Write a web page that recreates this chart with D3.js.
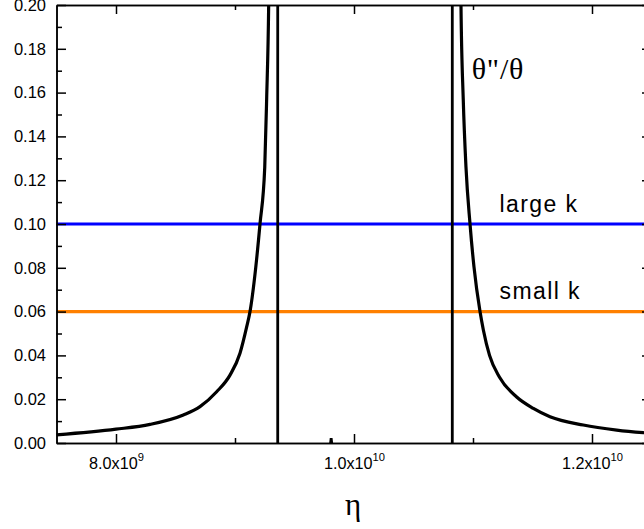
<!DOCTYPE html>
<html>
<head>
<meta charset="utf-8">
<script src="https://cdn.jsdelivr.net/npm/d3@7"></script>
<style>
  html, body { margin: 0; padding: 0; background: #fff; }
  svg { display: block; }
</style>
</head>
<body>
<svg id="chart"></svg>
<script>
// values: eta, theta''/theta
const leftBranch = [
  [7.50e9, 0.0037], [8.00e9, 0.0063], [8.286e9, 0.0085], [8.566e9, 0.0128],
  [8.706e9, 0.0166], [8.846e9, 0.0234], [8.958e9, 0.031], [9.042e9, 0.041],
  [9.098e9, 0.053], [9.126e9, 0.060], [9.174e9, 0.080], [9.210e9, 0.100],
  [9.250e9, 0.126], [9.266e9, 0.157], [9.283e9, 0.200], [9.297e9, 0.280]
];
// pole at ~9.36e9, negative between the poles, touches zero near 9.81e9
const middleBranch = [
  [9.300e9, 0.40], [9.359e9, 0.40], [9.359e9, -0.40], [9.50e9, -0.05],
  [9.70e9, -0.012], [9.795e9, -0.004], [9.808e9, 0.0022], [9.821e9, -0.004],
  [9.95e9, -0.012], [1.05e10, -0.05], [1.0826e10, -0.40], [1.0826e10, 0.40],
  [1.0888e10, 0.40]
];
const rightBranch = [
  [1.0888e10, 0.280], [1.0899e10, 0.200], [1.0918e10, 0.157], [1.0941e10, 0.126],
  [1.0975e10, 0.100], [1.1008e10, 0.0805], [1.1059e10, 0.060], [1.1087e10, 0.0516],
  [1.1139e10, 0.040], [1.1223e10, 0.030], [1.1367e10, 0.021], [1.1507e10, 0.0158],
  [1.1647e10, 0.012], [1.1927e10, 0.0082], [1.2208e10, 0.0059], [1.2431e10, 0.0047],
  [1.25e10, 0.0044]
];

const levelValues = [0.10, 0.06];
const levelLabels = ['large k', 'small k'];

const xMajorTicks = [8e9, 1e10, 1.2e10];
const xTickMantissa = ['8.0', '1.0', '1.2'];
const xTickExponent = ['9', '10', '10'];
const xMinorTicks = [9e9, 1.1e10];
const yMajorTicks = [0, 0.02, 0.04, 0.06, 0.08, 0.10, 0.12, 0.14, 0.16, 0.18, 0.20];
const yMinorTicks = [0.01, 0.03, 0.05, 0.07, 0.09, 0.11, 0.13, 0.15, 0.17, 0.19];

const levelColors = ['#0000ff', '#ff8000'];
const sans = '"Liberation Sans", Arial, sans-serif';
const serif = '"Liberation Serif", "Times New Roman", serif';

const W = 644, H = 529;
const margin = { top: 5, left: 56.5 };
const width = 595, height = 438;

const svg = d3.select('#chart').attr('width', W).attr('height', H);
const g = svg.append('g').attr('transform', `translate(${margin.left},${margin.top})`);

const x = d3.scaleLinear().domain([7.5e9, 1.25e10]).range([0, width]);
const y = d3.scaleLinear().domain([0, 0.2]).range([height, 0]);

g.append('clipPath').attr('id', 'plot-clip')
  .append('rect').attr('width', width).attr('height', height);

const plot = g.append('g').attr('clip-path', 'url(#plot-clip)');

// horizontal levels
plot.selectAll('.level')
  .data(levelValues)
  .enter().append('line')
  .attr('class', 'level')
  .attr('x1', x(7.5e9)).attr('x2', x(1.25e10))
  .attr('y1', d => y(d)).attr('y2', d => y(d))
  .attr('stroke', (d, i) => levelColors[i])
  .attr('stroke-width', 3.2);

const smooth = d3.line().x(d => x(d[0])).y(d => y(d[1])).curve(d3.curveMonotoneX);
const straight = d3.line().x(d => x(d[0])).y(d => y(d[1]));

plot.append('path').attr('d', straight(middleBranch))
  .attr('fill', 'none').attr('stroke', '#000').attr('stroke-width', 2.8);
[leftBranch, rightBranch].forEach(b => {
  plot.append('path').attr('d', smooth(b))
    .attr('fill', 'none').attr('stroke', '#000').attr('stroke-width', 3.2)
    .attr('stroke-linejoin', 'round');
});

// axes, ticks pointing inward
function styleAxis(sel) {
  sel.attr('font-family', sans).attr('font-size', null);
  sel.select('.domain').attr('stroke', '#000').attr('stroke-width', 1.5);
  sel.selectAll('.tick line').attr('stroke', '#000').attr('stroke-width', 1.5);
}

const bottom = g.append('g').attr('transform', `translate(0,${height})`)
  .call(d3.axisBottom(x).tickValues(xMajorTicks).tickSizeInner(-9).tickSizeOuter(0).tickFormat(''))
  .call(styleAxis);
g.append('g').attr('transform', `translate(0,${height})`)
  .call(d3.axisBottom(x).tickValues(xMinorTicks).tickSizeInner(-5).tickSizeOuter(0).tickFormat(''))
  .call(styleAxis);
g.append('g')
  .call(d3.axisTop(x).tickValues(xMajorTicks).tickSizeInner(-9).tickSizeOuter(0).tickFormat(''))
  .call(styleAxis);
g.append('g')
  .call(d3.axisTop(x).tickValues(xMinorTicks).tickSizeInner(-5).tickSizeOuter(0).tickFormat(''))
  .call(styleAxis);

bottom.selectAll('.tick text').remove();
bottom.selectAll('.tick').each(function(d, i) {
  const t = d3.select(this).append('text')
    .attr('y', 26.3)
    .attr('text-anchor', 'middle')
    .attr('fill', '#000')
    .attr('font-family', sans);
  t.append('tspan').attr('font-size', 16.2).text(xTickMantissa[i] + 'x10');
  t.append('tspan').attr('dy', -8.6).attr('font-size', 11.2).text(xTickExponent[i]);
});

const left = g.append('g')
  .call(d3.axisLeft(y).tickValues(yMajorTicks).tickSizeInner(-9.5).tickSizeOuter(0)
    .tickPadding(10.5).tickFormat(d3.format('.2f')))
  .call(styleAxis);
left.attr('font-size', 16.5);
left.selectAll('text').attr('fill', '#000').attr('font-size', 16.5).attr('font-family', sans);

g.append('g')
  .call(d3.axisLeft(y).tickValues(yMinorTicks).tickSizeInner(-5.5).tickSizeOuter(0).tickFormat(''))
  .call(styleAxis);
g.append('g').attr('transform', `translate(${width},0)`)
  .call(d3.axisRight(y).tickValues(yMajorTicks).tickSizeInner(-9.5).tickSizeOuter(0).tickFormat(''))
  .call(styleAxis);
g.append('g').attr('transform', `translate(${width},0)`)
  .call(d3.axisRight(y).tickValues(yMinorTicks).tickSizeInner(-5.5).tickSizeOuter(0).tickFormat(''))
  .call(styleAxis);

// labels
g.selectAll('.level-label')
  .data(levelValues)
  .enter().append('text')
  .attr('class', 'level-label')
  .attr('x', x(1.1223e10))
  .attr('y', d => y(d) - 12.3)
  .attr('fill', '#000')
  .attr('font-family', sans)
  .attr('font-size', 23)
  .attr('letter-spacing', 1.4)
  .text((d, i) => levelLabels[i]);

g.append('text')
  .attr('x', 471.7 - margin.left)
  .attr('y', 79.3 - margin.top)
  .attr('fill', '#000')
  .attr('font-family', serif)
  .attr('font-size', 30)
  .attr('letter-spacing', 0.8)
  .text('θ"/θ');

svg.append('text')
  .attr('x', 353)
  .attr('y', 515)
  .attr('text-anchor', 'middle')
  .attr('fill', '#000')
  .attr('font-family', serif)
  .attr('font-size', 31)
  .text('η');
</script>
</body>
</html>
